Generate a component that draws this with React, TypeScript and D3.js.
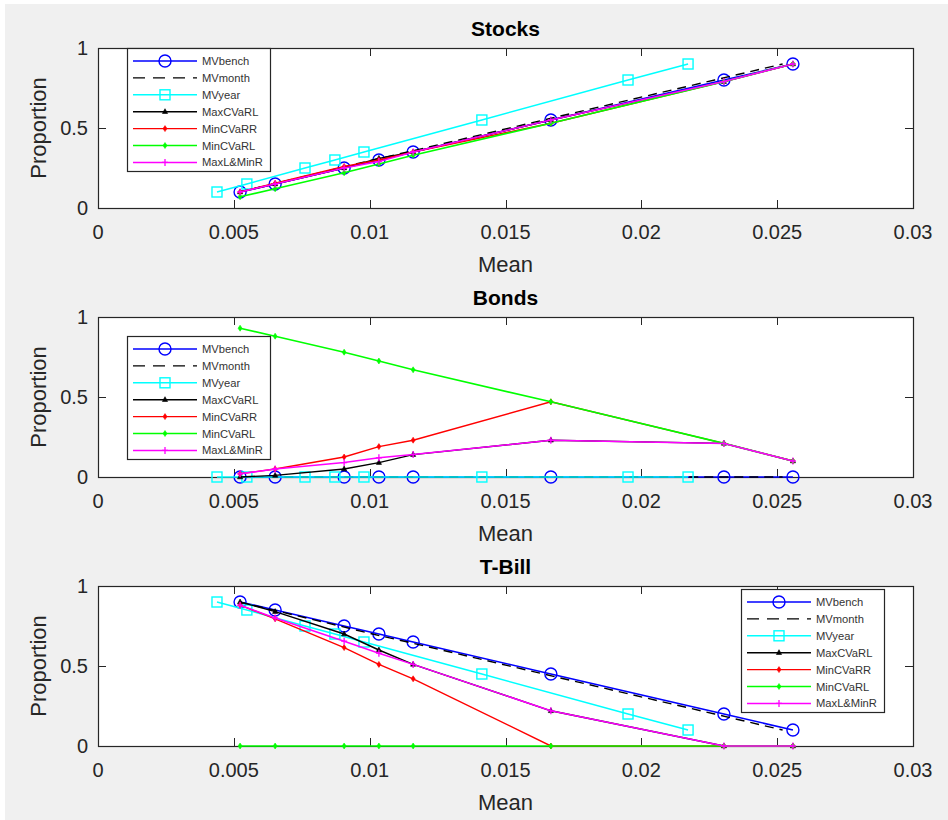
import React, { useEffect, useRef } from 'react';
import * as d3 from 'd3';

// axis ticks and labels
const xTicks = [0, 0.005, 0.01, 0.015, 0.02, 0.025, 0.03];
const xTickLabels = ['0', '0.005', '0.01', '0.015', '0.02', '0.025', '0.03'];
const yTicks = [0, 0.5, 1];
const yTickLabels = ['0', '0.5', '1'];
const titles = ['Stocks', 'Bonds', 'T-Bill'];
const seriesNames = ['MVbench', 'MVmonth', 'MVyear', 'MaxCVaRL', 'MinCVaRR', 'MinCVaRL', 'MaxL&MinR'];

// means (x values)
const meanBench = [0.00523, 0.00652, 0.00906, 0.01034, 0.0116, 0.01667, 0.02304, 0.02558];
const meanMonth = [0.0052, 0.00645, 0.0089, 0.0101, 0.0114, 0.0164, 0.0227, 0.0252];
const meanYear = [0.00438, 0.00548, 0.00762, 0.00872, 0.00979, 0.01413, 0.01951, 0.02172];

// proportions: stocks
const stocksBench = [0.1, 0.15, 0.25, 0.3, 0.35, 0.55, 0.8, 0.9];
const stocksMonth = [0.1, 0.15, 0.25, 0.3, 0.35, 0.55, 0.8, 0.9];
const stocksYear = [0.1, 0.15, 0.25, 0.3, 0.35, 0.55, 0.8, 0.9];
const stocksMaxCVaRL = [0.1, 0.15, 0.25, 0.31, 0.35, 0.55, 0.79, 0.9];
const stocksMinCVaRR = [0.1, 0.155, 0.26, 0.3, 0.35, 0.53, 0.79, 0.9];
const stocksMinCVaRL = [0.07, 0.12, 0.22, 0.275, 0.33, 0.53, 0.79, 0.9];
const stocksMaxLMinR = [0.1, 0.15, 0.25, 0.29, 0.35, 0.55, 0.79, 0.9];

// proportions: bonds
const bondsBench = [0, 0, 0, 0, 0, 0, 0, 0];
const bondsMonth = [0, 0, 0, 0, 0, 0, 0, 0];
const bondsYear = [0, 0, 0, 0, 0, 0, 0, 0];
const bondsMaxCVaRL = [0, 0.01, 0.05, 0.09, 0.14, 0.23, 0.21, 0.1];
const bondsMinCVaRR = [0.02, 0.05, 0.125, 0.19, 0.23, 0.47, 0.21, 0.1];
const bondsMinCVaRL = [0.93, 0.88, 0.78, 0.725, 0.67, 0.47, 0.21, 0.1];
const bondsMaxLMinR = [0.02, 0.05, 0.09, 0.12, 0.14, 0.23, 0.21, 0.1];

// proportions: t-bill
const tbillBench = [0.9, 0.85, 0.75, 0.7, 0.65, 0.45, 0.2, 0.1];
const tbillMonth = [0.9, 0.85, 0.75, 0.7, 0.65, 0.45, 0.2, 0.1];
const tbillYear = [0.9, 0.85, 0.75, 0.7, 0.65, 0.45, 0.2, 0.1];
const tbillMaxCVaRL = [0.9, 0.84, 0.7, 0.6, 0.51, 0.22, 0, 0];
const tbillMinCVaRR = [0.88, 0.795, 0.615, 0.51, 0.42, 0, 0, 0];
const tbillMinCVaRL = [0, 0, 0, 0, 0, 0, 0, 0];
const tbillMaxLMinR = [0.88, 0.8, 0.655, 0.58, 0.51, 0.22, 0, 0];

const means = [meanBench, meanMonth, meanYear, meanBench, meanBench, meanBench, meanBench];
const weights = [
  [stocksBench, stocksMonth, stocksYear, stocksMaxCVaRL, stocksMinCVaRR, stocksMinCVaRL, stocksMaxLMinR],
  [bondsBench, bondsMonth, bondsYear, bondsMaxCVaRL, bondsMinCVaRR, bondsMinCVaRL, bondsMaxLMinR],
  [tbillBench, tbillMonth, tbillYear, tbillMaxCVaRL, tbillMinCVaRR, tbillMinCVaRL, tbillMaxLMinR],
];

const styles = [
  { color: '#0000ff', width: 1.6, dash: null, marker: 'circle' },
  { color: '#000000', width: 1.4, dash: '9,6', marker: 'none' },
  { color: '#00ffff', width: 1.5, dash: null, marker: 'square' },
  { color: '#000000', width: 1.4, dash: null, marker: 'tri' },
  { color: '#ff0000', width: 1.4, dash: null, marker: 'dot' },
  { color: '#00ff00', width: 1.6, dash: null, marker: 'dot' },
  { color: '#ff00ff', width: 1.5, dash: null, marker: 'plus' },
];

const FONT = '"Liberation Sans", Arial, Helvetica, sans-serif';
const INK = '#262626';

function drawMarker(g, kind, x, y, color) {
  if (kind === 'circle') {
    g.append('circle').attr('cx', x).attr('cy', y).attr('r', 6)
      .attr('fill', 'none').attr('stroke', color).attr('stroke-width', 1.4);
  } else if (kind === 'square') {
    g.append('rect').attr('x', x - 5).attr('y', y - 5).attr('width', 10).attr('height', 10)
      .attr('fill', 'none').attr('stroke', color).attr('stroke-width', 1.4);
  } else if (kind === 'tri') {
    g.append('path').attr('d', `M${x},${y - 3}L${x + 2.6},${y + 1.8}L${x - 2.6},${y + 1.8}Z`)
      .attr('fill', color).attr('stroke', color).attr('stroke-width', 0.6);
  } else if (kind === 'dot') {
    g.append('path').attr('d', `M${x},${y - 3}L${x + 2},${y}L${x},${y + 3}L${x - 2},${y}Z`)
      .attr('fill', color).attr('stroke', color).attr('stroke-width', 0.6);
  } else if (kind === 'plus') {
    g.append('path').attr('d', `M${x - 3},${y}H${x + 3}M${x},${y - 3.5}V${y + 3.5}`)
      .attr('stroke', color).attr('stroke-width', 1.3);
  }
}

export default function App() {
  const ref = useRef(null);

  useEffect(() => {
    const W = 948;
    const H = 820;
    const left = 98;
    const right = 913;
    const tops = [48, 317, 586];
    const ph = 160;
    const legendPos = [[127, 48], [127, 336], [741, 589]];

    const svg = d3.select(ref.current);
    svg.selectAll('*').remove();
    svg.append('rect').attr('width', W).attr('height', H).attr('fill', '#ffffff');
    svg.append('rect').attr('x', 5).attr('y', 4).attr('width', W - 5).attr('height', H - 4).attr('fill', '#f0f0f0');

    const x = d3.scaleLinear().domain([0, 0.03]).range([left, right]);

    tops.forEach((top, p) => {
      const y = d3.scaleLinear().domain([0, 1]).range([top + ph, top]);
      const g = svg.append('g');

      // axes background and box (drawn below the data, as in MATLAB)
      g.append('rect').attr('x', left + 0.5).attr('y', top + 0.5).attr('width', right - left)
        .attr('height', ph).attr('fill', '#ffffff').attr('stroke', INK).attr('stroke-width', 1.2);

      // ticks on all four sides, pointing in
      xTicks.forEach((t, i) => {
        const px = Math.round(x(t)) + 0.5;
        g.append('line').attr('x1', px).attr('x2', px).attr('y1', top + ph).attr('y2', top + ph - 8)
          .attr('stroke', INK).attr('stroke-width', 1);
        g.append('line').attr('x1', px).attr('x2', px).attr('y1', top).attr('y2', top + 8)
          .attr('stroke', INK).attr('stroke-width', 1);
        g.append('text').attr('x', x(t)).attr('y', top + ph + 31).attr('text-anchor', 'middle')
          .attr('font-family', FONT).attr('font-size', 20).attr('fill', INK).text(xTickLabels[i]);
      });
      yTicks.forEach((t, i) => {
        const py = Math.round(y(t)) + 0.5;
        g.append('line').attr('x1', left).attr('x2', left + 8).attr('y1', py).attr('y2', py)
          .attr('stroke', INK).attr('stroke-width', 1);
        g.append('line').attr('x1', right).attr('x2', right - 8).attr('y1', py).attr('y2', py)
          .attr('stroke', INK).attr('stroke-width', 1);
        g.append('text').attr('x', 88).attr('y', y(t) + 7).attr('text-anchor', 'end')
          .attr('font-family', FONT).attr('font-size', 20).attr('fill', INK).text(yTickLabels[i]);
      });

      // series
      const lineGen = d3.line().x(d => x(d[0])).y(d => y(d[1]));
      seriesNames.forEach((name, s) => {
        const st = styles[s];
        const pts = means[s].map((m, i) => [m, weights[p][s][i]]);
        const path = g.append('path').attr('d', lineGen(pts)).attr('fill', 'none')
          .attr('stroke', st.color).attr('stroke-width', st.width);
        if (st.dash) path.attr('stroke-dasharray', st.dash);
        pts.forEach(d => drawMarker(g, st.marker, x(d[0]), y(d[1]), st.color));
      });

      // labels
      g.append('text').attr('x', (left + right) / 2).attr('y', top - 12).attr('text-anchor', 'middle')
        .attr('font-family', FONT).attr('font-size', 21).attr('font-weight', 'bold').attr('fill', '#000')
        .text(titles[p]);
      g.append('text').attr('x', (left + right) / 2).attr('y', top + ph + 64).attr('text-anchor', 'middle')
        .attr('font-family', FONT).attr('font-size', 22).attr('fill', INK).text('Mean');
      g.append('text').attr('transform', `translate(46,${top + ph / 2}) rotate(-90)`)
        .attr('text-anchor', 'middle').attr('font-family', FONT).attr('font-size', 22)
        .attr('fill', INK).text('Proportion');

      // legend
      const [lx, ly] = legendPos[p];
      const lg = g.append('g');
      lg.append('rect').attr('x', lx + 0.5).attr('y', ly + 0.5).attr('width', 143).attr('height', 123)
        .attr('fill', '#ffffff').attr('stroke', INK).attr('stroke-width', 1.2);
      seriesNames.forEach((name, s) => {
        const st = styles[s];
        const ry = ly + 13 + s * 16.9;
        const l = lg.append('line').attr('x1', lx + 6).attr('x2', lx + 70).attr('y1', ry).attr('y2', ry)
          .attr('stroke', st.color).attr('stroke-width', st.width);
        if (st.dash) l.attr('stroke-dasharray', '12,8');
        drawMarker(lg, st.marker, lx + 38, ry, st.color);
        lg.append('text').attr('x', lx + 75).attr('y', ry + 4).attr('font-family', FONT)
          .attr('font-size', 11.2).attr('fill', '#333').text(name);
      });
    });
  }, []);

  return (
    <svg ref={ref} width={948} height={820}
      style={{ position: 'absolute', left: 0, top: 0, display: 'block' }} />
  );
}
